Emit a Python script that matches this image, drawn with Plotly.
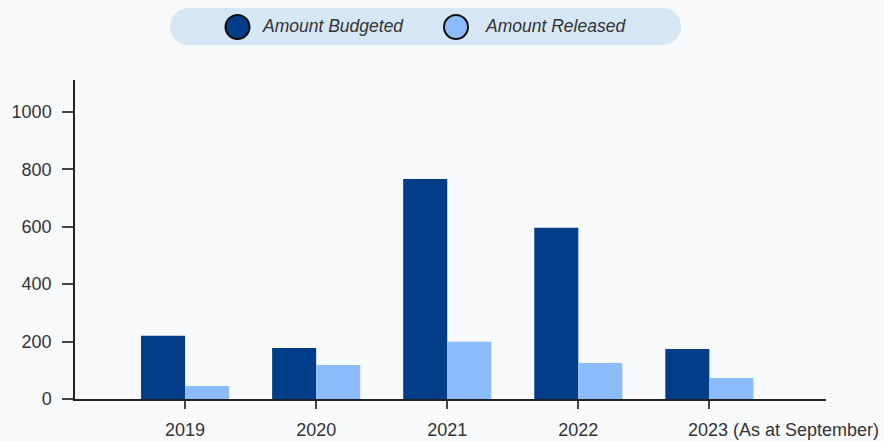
import plotly.graph_objects as go

years = ["2019", "2020", "2021", "2022", "2023 (As at September)"]
budgeted = [220, 178, 766, 596, 174]
released = [45, 118, 199, 125, 73]
series_names = ["Amount Budgeted", "Amount Released"]
colors = ["#023d8a", "#8bbbfa"]

W, H = 884, 441
ml, mr, mt, mb = 75, 58, 80, 42

fig = go.Figure()
fig.add_trace(go.Bar(x=years, y=budgeted, name=series_names[0], marker_color=colors[0],
                     marker_line_width=0, showlegend=False))
fig.add_trace(go.Bar(x=years, y=released, name=series_names[1], marker_color=colors[1],
                     marker_line_width=0, showlegend=False))

font = dict(family="Liberation Sans, Arial, sans-serif", size=18, color="#333333")

ticktext = years[:-1] + [""]

fig.update_layout(
    width=W, height=H,
    margin=dict(l=ml, r=mr, t=mt, b=mb, pad=0, autoexpand=False),
    paper_bgcolor="#f8f9fb", plot_bgcolor="#f8f9fb",
    barmode="group", bargap=0.328, bargroupgap=0,
    font=font,
    xaxis=dict(range=[-0.84, 4.89], showgrid=False, showline=True, linecolor="#222222", linewidth=1.5,
               ticks="outside", ticklen=8, tickcolor="#444444", tickwidth=1.5,
               tickmode="array", tickvals=years, ticktext=ticktext,
               tickfont=font, zeroline=False, automargin=False, ticklabelstandoff=6),
    yaxis=dict(range=[0, 1111], showgrid=False, showline=True, linecolor="#222222", linewidth=1.5,
               ticks="outside", ticklen=11, tickcolor="#444444", tickwidth=1.5,
               tickvals=[0, 200, 400, 600, 800, 1000], tickfont=font, zeroline=False,
               ticklabelstandoff=7, automargin=False),
    showlegend=False,
)

# last category label (placed as in the reference, starting just left of its tick)
fig.add_annotation(x=years[-1], y=0, xref="x", yref="y", text=years[-1], showarrow=False,
                   xanchor="left", yanchor="top", xshift=-23, yshift=-19, font=font)

PW = W - ml - mr
PH = H - mt - mb

def px_x(x):
    return (x - ml) / PW

def px_y(y):
    return (H - mb - y) / PH

def pt(x, y):
    return f"{px_x(x):.5f},{px_y(y):.5f}"

# legend pill (rounded ends via cubic curves)
x0, x1, y0, y1 = 170, 681, 8, 45
r = (y1 - y0) / 2
k = 0.5523 * r
yc = (y0 + y1) / 2
path = (f"M {pt(x0 + r, y0)} L {pt(x1 - r, y0)} "
        f"C {pt(x1 - r + k, y0)} {pt(x1, yc - k)} {pt(x1, yc)} "
        f"C {pt(x1, yc + k)} {pt(x1 - r + k, y1)} {pt(x1 - r, y1)} "
        f"L {pt(x0 + r, y1)} "
        f"C {pt(x0 + r - k, y1)} {pt(x0, yc + k)} {pt(x0, yc)} "
        f"C {pt(x0, yc - k)} {pt(x0 + r - k, y0)} {pt(x0 + r, y0)} Z")
fig.add_shape(type="path", path=path, xref="paper", yref="paper",
              fillcolor="#d5e6f5", line_width=0)

legend_items = [(237.5, 260), (456, 483)]
for (cx, tx), name, col in zip(legend_items, series_names, colors):
    rad = 12
    fig.add_shape(type="circle", xref="paper", yref="paper",
                  x0=px_x(cx - rad), x1=px_x(cx + rad), y0=px_y(27 + rad), y1=px_y(27 - rad),
                  fillcolor=col, line=dict(color="#111111", width=2))
    fig.add_annotation(x=px_x(tx), y=px_y(26.5), xref="paper", yref="paper", text=f"<i>{name}</i>",
                       showarrow=False, xanchor="left", yanchor="middle",
                       font=dict(family="Liberation Sans, Arial, sans-serif", size=17.5, color="#333333"))

fig.write_html("out.html", config={"displayModeBar": False},
               post_script="document.body.style.margin='0';document.body.style.overflow='hidden';")
